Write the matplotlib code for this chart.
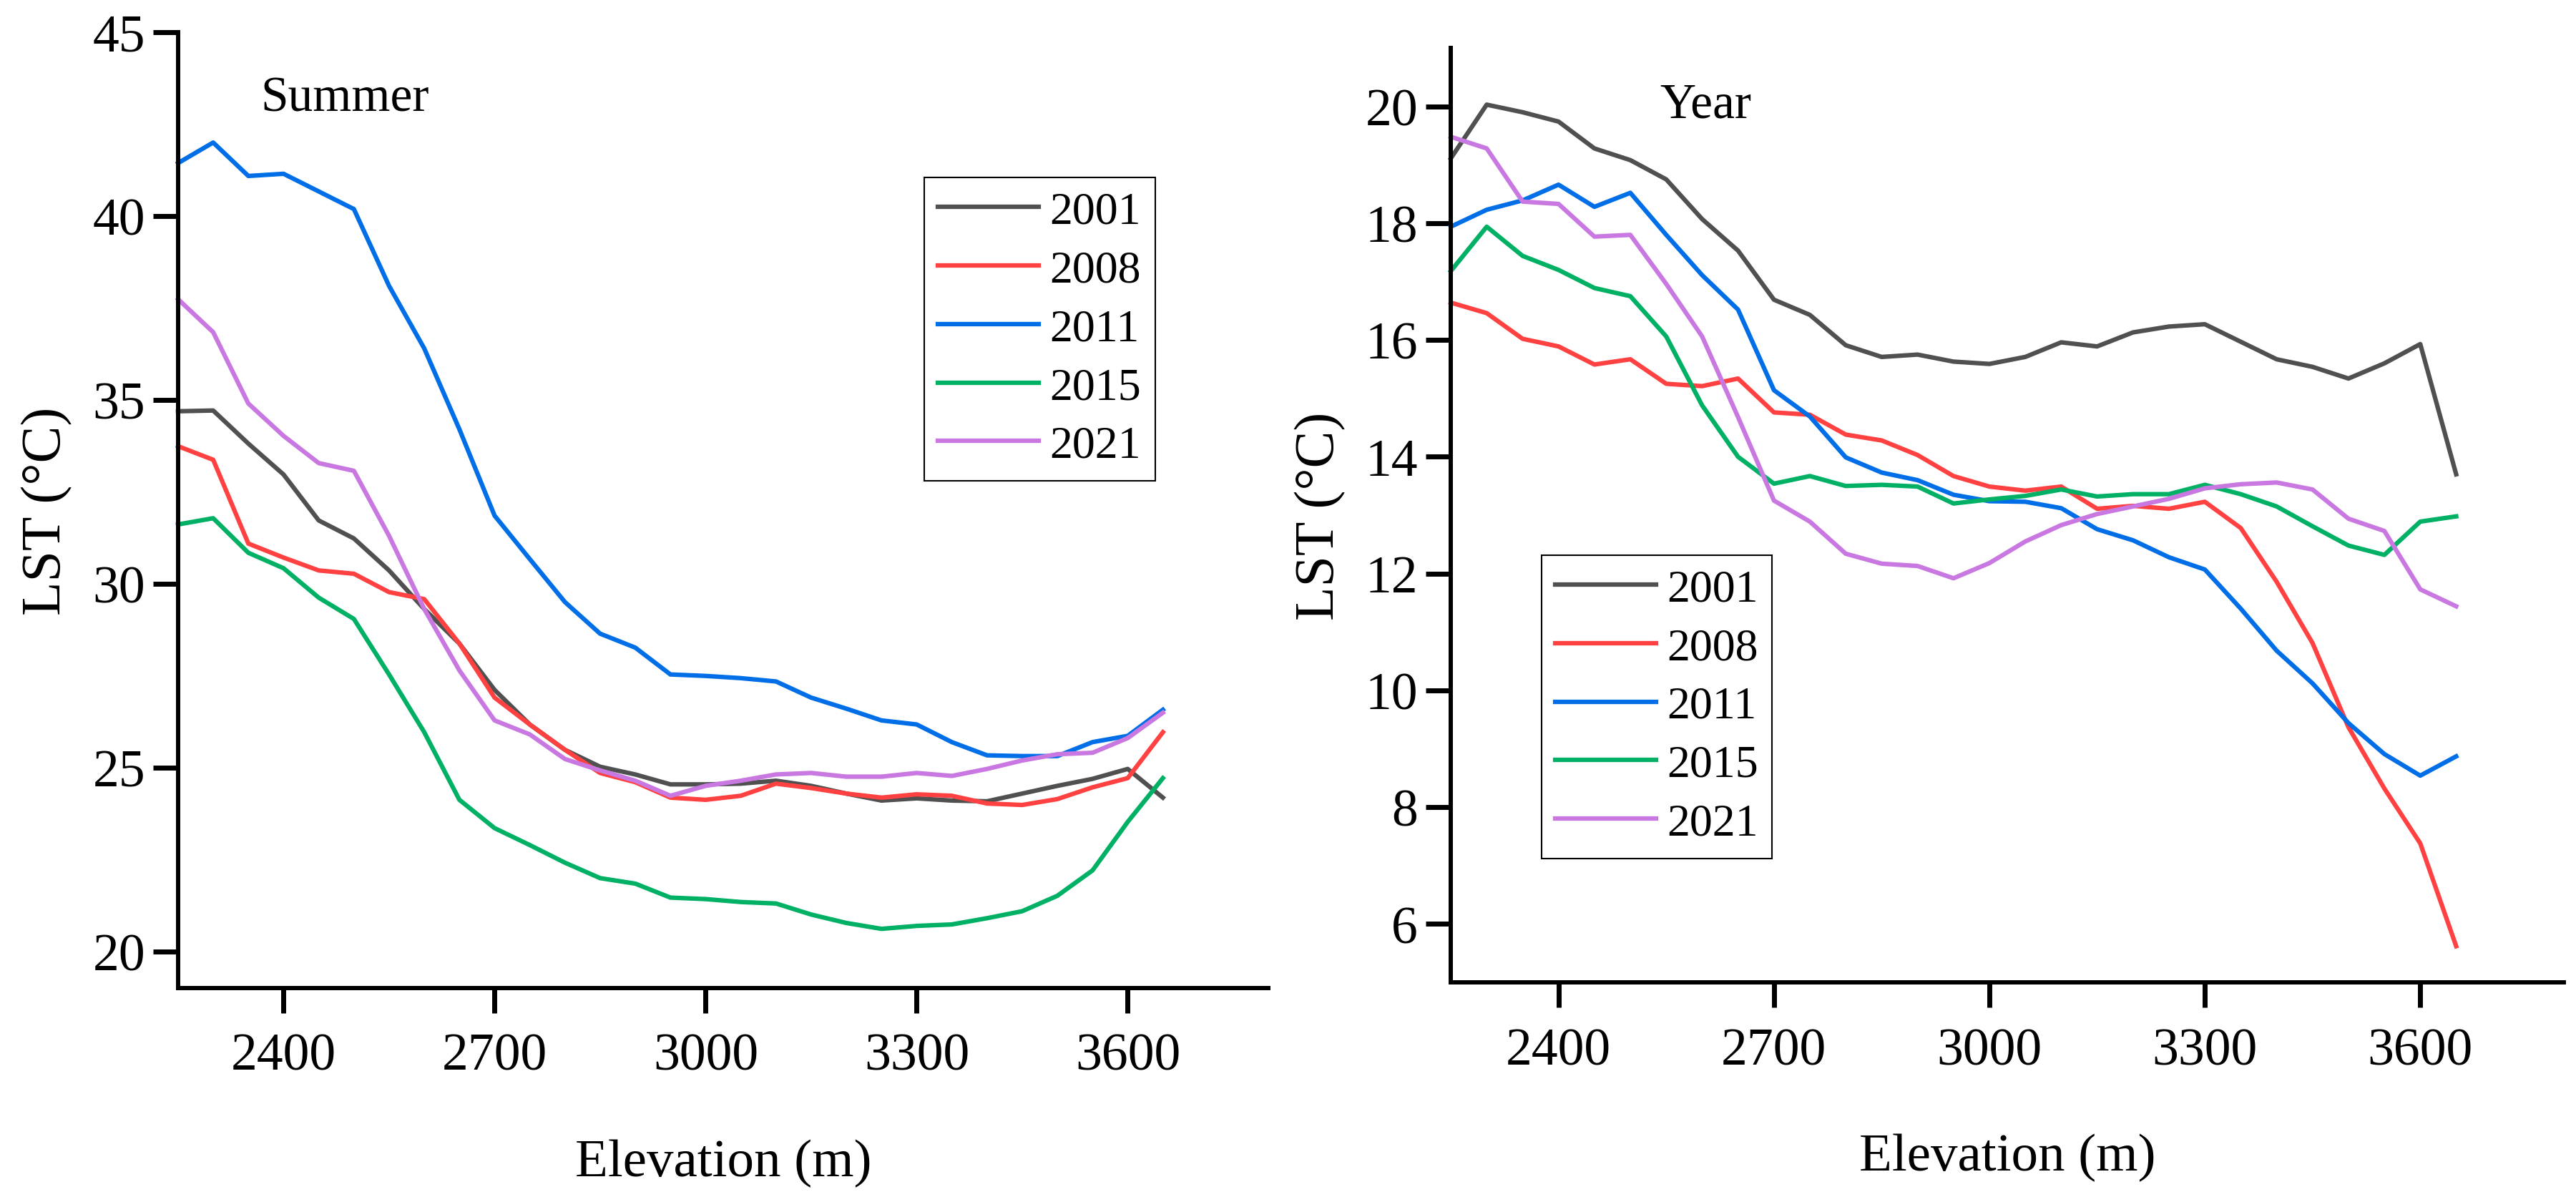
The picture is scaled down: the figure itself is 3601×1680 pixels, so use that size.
import numpy as np
import matplotlib
matplotlib.use('Agg')
import matplotlib.pyplot as plt

plt.rcParams['font.family'] = ['Liberation Serif', 'DejaVu Serif']

# Elevation bins (m)
elev = [2250, 2300, 2350, 2400, 2450, 2500, 2550, 2600, 2650, 2700,
        2750, 2800, 2850, 2900, 2950, 3000, 3050, 3100, 3150, 3200,
        3250, 3300, 3350, 3400, 3450, 3500, 3550, 3600, 3650]

years = ['2001', '2008', '2011', '2015', '2021']
colors = ['#505050', '#ff4141', '#006ee6', '#00b064', '#c878e0']

# Summer LST
summer_2001 = [34.69, 34.71, 33.81, 32.97, 31.72, 31.23, 30.36, 29.31, 28.37, 27.11,
               26.17, 25.48, 25.02, 24.81, 24.54, 24.54, 24.56, 24.64, 24.50, 24.29,
               24.10, 24.16, 24.10, 24.08, 24.29, 24.50, 24.69, 24.96, 24.18]
summer_2008 = [33.74, 33.37, 31.09, 30.71, 30.36, 30.27, 29.77, 29.58, 28.37, 26.90,
               26.17, 25.48, 24.85, 24.60, 24.18, 24.12, 24.23, 24.56, 24.44, 24.29,
               24.18, 24.27, 24.23, 24.02, 23.98, 24.14, 24.46, 24.71, 25.96]
summer_2011 = [41.44, 42.00, 41.09, 41.15, 40.67, 40.19, 38.10, 36.40, 34.20, 31.85,
               30.67, 29.50, 28.64, 28.26, 27.53, 27.49, 27.43, 27.34, 26.90, 26.60,
               26.28, 26.17, 25.69, 25.33, 25.31, 25.31, 25.69, 25.86, 26.57]
summer_2015 = [31.61, 31.78, 30.84, 30.42, 29.62, 29.04, 27.53, 25.96, 24.12, 23.35,
               22.89, 22.41, 21.99, 21.84, 21.46, 21.42, 21.34, 21.30, 21.00, 20.77,
               20.61, 20.69, 20.73, 20.90, 21.09, 21.51, 22.20, 23.52, 24.71]
summer_2021 = [37.74, 36.84, 34.90, 34.02, 33.28, 33.07, 31.30, 29.31, 27.64, 26.28,
               25.90, 25.23, 24.92, 24.64, 24.23, 24.50, 24.64, 24.81, 24.85, 24.75,
               24.75, 24.85, 24.77, 24.96, 25.19, 25.36, 25.40, 25.80, 26.49]

# Annual LST
year_2001 = [19.11, 20.03, 19.90, 19.74, 19.28, 19.08, 18.75, 18.07, 17.53, 16.69,
             16.43, 15.91, 15.71, 15.75, 15.63, 15.59, 15.71, 15.96, 15.89, 16.13,
             16.23, 16.27, 15.97, 15.67, 15.54, 15.34, 15.60, 15.93, 13.70]
year_2008 = [16.64, 16.46, 16.02, 15.89, 15.58, 15.67, 15.25, 15.21, 15.34, 14.76,
             14.72, 14.38, 14.28, 14.03, 13.67, 13.49, 13.42, 13.49, 13.11, 13.16,
             13.11, 13.23, 12.78, 11.86, 10.81, 9.37, 8.32, 7.38, 5.62]
year_2011 = [17.94, 18.23, 18.39, 18.66, 18.28, 18.52, 17.80, 17.11, 16.52, 15.14,
             14.69, 13.99, 13.73, 13.60, 13.35, 13.24, 13.23, 13.12, 12.76, 12.57,
             12.28, 12.07, 11.40, 10.68, 10.12, 9.44, 8.91, 8.54, 8.87]
year_2015 = [17.18, 17.94, 17.44, 17.20, 16.89, 16.75, 16.06, 14.88, 14.00, 13.54,
             13.67, 13.50, 13.52, 13.49, 13.20, 13.27, 13.33, 13.44, 13.32, 13.36,
             13.36, 13.52, 13.36, 13.15, 12.81, 12.48, 12.32, 12.89, 12.98]
year_2021 = [19.48, 19.28, 18.37, 18.33, 17.77, 17.80, 16.96, 16.06, 14.68, 13.25,
             12.89, 12.34, 12.17, 12.13, 11.92, 12.18, 12.55, 12.83, 13.02, 13.15,
             13.28, 13.46, 13.53, 13.56, 13.44, 12.94, 12.73, 11.73, 11.44]

summer = [summer_2001, summer_2008, summer_2011, summer_2015, summer_2021]
annual = [year_2001, year_2008, year_2011, year_2015, year_2021]


def style_axis(ax):
    for s in ['top', 'right']:
        ax.spines[s].set_visible(False)
    for s in ['left', 'bottom']:
        ax.spines[s].set_linewidth(4.3)
    ax.tick_params(direction='out', length=25, width=5, labelsize=53, pad=8)
    ax.tick_params(axis='x', pad=20)
    ax.set_xlim(2250, 3800)
    ax.set_xticks([2400, 2700, 3000, 3300, 3600])
    ax.set_xlabel('Elevation (m)', fontsize=54, labelpad=58)
    ax.set_ylabel('LST (°C)', fontsize=56, labelpad=20)


def add_legend(ax, anchor):
    leg = fig.legend(handles=ax.get_lines(), loc='upper left',
                     bbox_to_anchor=anchor, fontsize=46,
                     handlelength=2.2, handletextpad=0.25, labelspacing=0.36,
                     borderpad=0.3, borderaxespad=0, fancybox=False,
                     edgecolor='black', framealpha=1)
    leg.get_frame().set_linewidth(1.5)


fig = plt.figure(figsize=(36.01, 16.81), dpi=100)

ax1 = fig.add_axes([0.0691, 0.1779, 0.4233, 0.7947])
for vals, c, lab in zip(summer, colors, years):
    ax1.plot(elev, vals, color=c, lw=4.5, label=lab, clip_on=False)
style_axis(ax1)
ax1.set_ylim(19, 45)
ax1.set_yticks([20, 25, 30, 35, 40, 45])
ax1.text(0.0755, 0.918, 'Summer', transform=ax1.transAxes, fontsize=50,
         va='baseline')
add_legend(ax1, (0.3588, 0.8519))

ax2 = fig.add_axes([0.5632, 0.1826, 0.4321, 0.7769])
for vals, c, lab in zip(annual, colors, years):
    ax2.plot(elev, vals, color=c, lw=4.5, label=lab, clip_on=False)
style_axis(ax2)
ax2.set_ylim(5, 21)
ax2.set_yticks([6, 8, 10, 12, 14, 16, 18, 20])
ax2.text(0.188, 0.926, 'Year', transform=ax2.transAxes, fontsize=50,
         va='baseline')
add_legend(ax2, (0.5984, 0.538))

fig.savefig('out.png', dpi=100)
